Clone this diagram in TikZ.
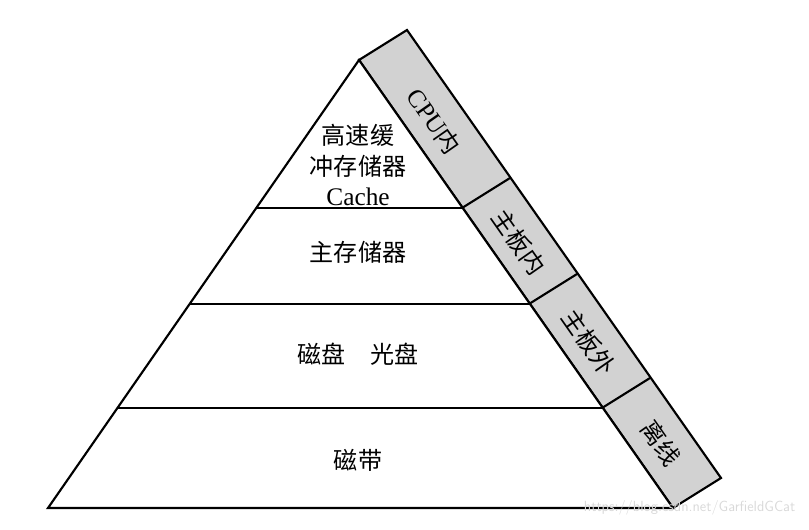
\documentclass[tikz,border=0pt]{standalone}
\usepackage{fontspec}
\usetikzlibrary{calc}
\setmainfont{Liberation Serif}
\newfontfamily\cjk{Noto Sans CJK SC}[Scale=0.95]
\begin{document}
\begin{tikzpicture}[x=0.75pt,y=-0.75pt,
  edge/.style={line width=1.6pt,line join=miter},
  band/.style={fill=gray!35,draw=black,line width=1.6pt},
  lbl/.style={font=\fontsize{19}{23}\selectfont\cjk,align=center,inner sep=0pt},
  blbl/.style={font=\fontsize{19}{23}\selectfont\cjk,rotate=-55,inner sep=0pt}]
\useasboundingbox (0,0) rectangle (809,529);
\def\ox{48}\def\oy{-30}
\coordinate (A) at (359,60);
\coordinate (L) at (48,508);
\coordinate (R) at (673,508);
\coordinate (R1) at (462,208);
\coordinate (R2) at (529,304);
\coordinate (R3) at (602,408);
\coordinate (L1) at (256,208);
\coordinate (L2) at (190,304);
\coordinate (L3) at (118,408);
% band
\draw[band] (A) -- ++(\ox,\oy) coordinate (AO) -- ($(R)+(\ox,\oy)$) coordinate (RO) -- (R) -- cycle;
\foreach \p in {R1,R2,R3} \draw[edge] (\p) -- ++(\ox,\oy);
\draw[edge,fill=white] (A) -- (L) -- (R) -- cycle;
\draw[edge] (L1) -- (R1);
\draw[edge] (L2) -- (R2);
\draw[edge] (L3) -- (R3);
\node[lbl] (t1) at (358,165) {高速缓\\冲存储器\\{\rmfamily\fontsize{19}{23}\selectfont Cache}};
\node[lbl] (t2) at (358,252) {主存储器};
\node[lbl] (t3) at (358,354) {磁盘\quad 光盘};
\node[lbl] (t4) at (358,460) {磁带};
\node[blbl] (b1) at (434,121) {{\rmfamily CPU}内};
\node[blbl] (b2) at (519,242) {主板内};
\node[blbl] (b3) at (589,342) {主板外};
\node[blbl] (b4) at (661,443) {离线};
\node[font=\fontsize{11}{13}\selectfont\sffamily,text=gray!30,anchor=east] (wm) at (800,508) {https://blog.csdn.net/GarfieldGCat};
\end{tikzpicture}
\end{document}
